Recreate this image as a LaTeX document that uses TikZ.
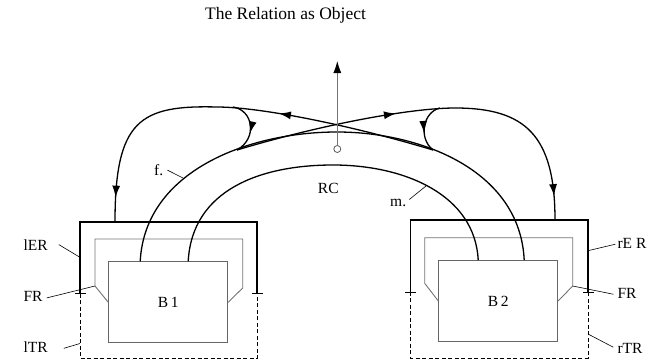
\documentclass[tikz,border=0pt]{standalone}
\usepackage{fontspec}
\setmainfont{Liberation Serif}
\usetikzlibrary{arrows.meta,calc,decorations.markings}
\newcommand\lblsize{\fontsize{15.5}{17}\selectfont}
\newcommand\ttlsize{\fontsize{17.5}{19}\selectfont}
\tikzset{
  bbox/.style={rectangle, draw=black!60, line width=0.8pt, minimum width=119pt,
    minimum height=81pt, inner sep=0pt, font=\lblsize},
  frm/.style={draw=black!55, line width=0.9pt},
  erline/.style={draw=black, line width=1.4pt},
  trline/.style={draw=black, line width=1pt, dash pattern=on 4pt off 2.5pt},
  tick/.style={draw=black, line width=0.8pt},
  lbl/.style={font=\lblsize, inner sep=0pt},
  lead/.style={draw=black, line width=0.6pt},
  curve/.style={draw=black, line width=1.3pt},
  tip/.style={-{Latex[length=12pt,width=8pt,black]}},
  arr/.style={postaction={decorate}, decoration={markings,
    mark=at position #1 with {\arrow{Latex[length=12pt,width=8pt]}}}},
  arrs/.style 2 args={postaction={decorate}, decoration={markings,
    mark=at position #1 with {\arrow{Latex[length=12pt,width=8pt]}},
    mark=at position #2 with {\arrow{Latex[length=12pt,width=8pt]}}}},
}

\begin{document}
\begin{tikzpicture}[x=1pt,y=-1pt]
  \useasboundingbox (0,0) rectangle (650,361);
  \node[lbl, font=\ttlsize, anchor=base] (title) at (285.5,19.3) {The Relation as Object};

  % the two bodies
  \node[bbox] (B1) at (168.2,302.3) {B\,1};
  \node[bbox] (B2) at (498.2,301) {B\,2};

  % outer regions: solid ER part, dashed TR box
  \draw[trline] (80,222) rectangle (257,358);
  \draw[erline] (80,293) -- (80,222) -- (257,222) -- (257,293);
  \draw[tick] (75,293) -- (86,293);
  \draw[tick] (252,293) -- (263,293);
  \draw[trline] (410.7,220) rectangle (588,358);
  \draw[erline] (410.7,292) -- (410.7,220) -- (588,220) -- (588,292);
  \draw[tick] (405,292) -- (416,292);
  \draw[tick] (583,292) -- (594,292);

  % inner frames
  \coordinate (lFR) at (95,286);
  \coordinate (rFR) at (572.7,286);
  \draw[frm] (B1.west) -- (lFR) -- (95,239) -- (242.7,239) -- (242.7,288) -- (B1.east);
  \draw[frm] (B2.west) -- (424.7,283.3) -- (424.7,237.7) -- (572.7,237.7) -- (rFR) -- (B2.east);

  % the two big arcs
  \coordinate (fL) at ($(B1.north)+(-28,0)$);
  \coordinate (fR) at ($(B2.north)+(26,0)$);
  \coordinate (mL) at ($(B1.north)+(20,0)$);
  \coordinate (mR) at ($(B2.north)+(-20,0)$);
  \coordinate (fTop) at (337,132);
  \coordinate (mTop) at (333,165);
  \draw[curve] (fL) .. controls (145,170) and (250,132) .. (fTop)
    .. controls (420,132) and (520,170) .. (fR);
  \draw[curve] (mL) .. controls (192,190) and (260,165) .. (mTop)
    .. controls (405,165) and (475,195) .. (mR);

  % crossing loops
  \coordinate (cL) at (237,150);
  \coordinate (cR) at (433,150);
  \coordinate (lIn) at (115,222);
  \coordinate (rIn) at (555,220);
  \coordinate (lTop) at (217,107);
  \coordinate (rTop) at (455,108);
  \draw[curve, arrs={0.39}{0.94}] (cR) .. controls (350,125) and (260,107) .. (lTop)
    .. controls (140,105) and (115,120) .. (lIn);
  \draw[curve, arrs={0.41}{0.94}] (cL) .. controls (320,125) and (410,108) .. (rTop)
    .. controls (525,108) and (555,135) .. (rIn);
  \draw[curve, arr=0.62] (233,107) .. controls (253,110) and (258,138) .. (cL);
  \draw[curve, arr=0.62] (440,108) .. controls (423,112) and (418,138) .. (cR);

  % the relation as object
  \node[circle, draw=black!65, line width=0.8pt, minimum size=7pt, inner sep=0pt] (obj) at (337.3,149) {};
  \coordinate (up) at (337.3,61);
  \draw[draw=black!55, line width=0.9pt, tip] (obj) -- (up);

  % labels
  \node[lbl, anchor=base] (RC) at (328.3,193.3) {RC};
  \node[lbl, anchor=base west] (f) at (154,175.5) {f.};
  \node[lbl, anchor=base west] (m) at (390,206) {m.};
  \draw[lead] ($(f.east)+(4,0)$) -- (183,178);
  \draw[lead] ($(m.east)+(3,-3)$) -- (426,186);

  \node[lbl, anchor=base west] (lER) at (23.3,250) {lER};
  \node[lbl, anchor=base west] (lFRl) at (23.3,301) {FR};
  \node[lbl, anchor=base west] (lTR) at (23.3,352.7) {lTR};
  \node[lbl, anchor=base west] (rER) at (617.3,248.3) {rE R};
  \node[lbl, anchor=base west] (rFRl) at (617.3,298.3) {FR};
  \node[lbl, anchor=base west] (rTR) at (617.3,353.3) {rTR};
  \draw[lead] ($(lER.east)+(11,0)$) -- (79.5,257);
  \draw[lead] ($(lFRl.east)+(4,2)$) -- (lFR);
  \draw[lead] ($(lTR.east)+(16,1)$) -- (80,343.5);
  \draw[lead] (588,250.7) -- ($(rER.west)+(-2,1)$);
  \draw[lead] (rFR) -- ($(rFRl.west)+(-4,1)$);
  \draw[lead] (588,334) -- ($(rTR.west)+(-4,-1)$);
\end{tikzpicture}
\end{document}
